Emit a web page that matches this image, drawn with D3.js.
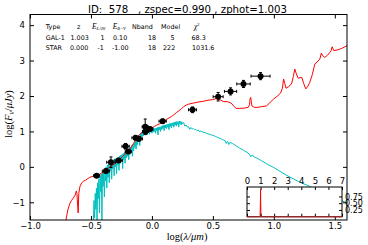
<!DOCTYPE html>
<html>
<head>
<meta charset="utf-8">
<script src="https://cdn.jsdelivr.net/npm/d3@7"></script>
<style>
  body { margin: 0; background: #fff; }
  text { font-family: "DejaVu Sans", sans-serif; }
  .serif { font-family: "Liberation Serif", "DejaVu Serif", serif; }
</style>
</head>
<body>
<svg id="sed" width="368" height="245"></svg>
<script>
// photometry points: log(lambda/um), log(Fnu/uJy), errors
const obsX = [-0.453, -0.377, -0.336, -0.273, -0.216, -0.194, -0.134, -0.107, -0.055, -0.052, -0.016, 0.088, 0.333, 0.543, 0.645, 0.751, 0.891];
const obsY = [-0.25, -0.12, 0.13, 0.18, 0.58, 0.43, 0.82, 0.79, 1.13, 1.00, 1.07, 1.29, 1.61, 1.98, 2.13, 2.34, 2.56];
const obsXErr = [0.025, 0.03, 0.035, 0.03, 0.03, 0.025, 0.03, 0.03, 0.025, 0.025, 0.025, 0.03, 0.033, 0.041, 0.05, 0.055, 0.078];
const obsYErr = [0.05, 0.05, 0.15, 0.05, 0.08, 0.05, 0.06, 0.06, 0.22, 0.06, 0.05, 0.06, 0.08, 0.12, 0.1, 0.1, 0.1];

// best galaxy template (red)
const galX = [-0.705, -0.69, -0.675, -0.66, -0.645, -0.63, -0.62, -0.615, -0.61, -0.605, -0.6, -0.59, -0.575, -0.56, -0.545, -0.53, -0.51, -0.49, -0.47, -0.45, -0.43, -0.41, -0.39, -0.37, -0.35, -0.33, -0.31, -0.29, -0.27, -0.25, -0.23, -0.21, -0.19, -0.17, -0.15, -0.13, -0.115, -0.1, -0.08, -0.06, -0.04, -0.02, 0.0, 0.02, 0.04, 0.06, 0.08, 0.1, 0.12, 0.14, 0.16, 0.18, 0.2, 0.22, 0.24, 0.26, 0.28, 0.3, 0.34, 0.38, 0.42, 0.46, 0.5, 0.53, 0.56, 0.59, 0.62, 0.65, 0.67, 0.69, 0.72, 0.76, 0.79, 0.8, 0.805, 0.81, 0.815, 0.82, 0.84, 0.87, 0.9, 0.94, 0.97, 1.0, 1.03, 1.055, 1.07, 1.08, 1.09, 1.1, 1.12, 1.145, 1.16, 1.172, 1.185, 1.2, 1.215, 1.23, 1.245, 1.262, 1.28, 1.295, 1.315, 1.336, 1.355, 1.377, 1.39, 1.4, 1.418, 1.44, 1.459, 1.47, 1.478, 1.492, 1.52, 1.555, 1.6];
const galY = [-1.5, -1.22, -1.05, -0.95, -0.88, -0.8, -0.68, -0.75, -1.05, -1.3, -0.75, -0.55, -0.45, -0.4, -0.38, -0.34, -0.3, -0.27, -0.26, -0.23, -0.21, -0.17, -0.12, -0.07, -0.02, 0.03, 0.08, 0.12, 0.19, 0.26, 0.33, 0.4, 0.47, 0.56, 0.66, 0.79, 0.86, 0.92, 0.97, 1.01, 1.05, 1.08, 1.1, 1.14, 1.18, 1.21, 1.25, 1.29, 1.34, 1.38, 1.42, 1.47, 1.53, 1.58, 1.63, 1.7, 1.74, 1.77, 1.8, 1.83, 1.85, 1.88, 1.9, 1.93, 1.89, 1.84, 1.84, 1.8, 1.72, 1.65, 1.65, 1.66, 1.68, 1.75, 1.92, 1.96, 1.85, 1.72, 1.68, 1.68, 1.7, 1.72, 1.82, 1.92, 2.0, 2.08, 2.22, 2.48, 2.35, 2.22, 2.26, 2.34, 2.55, 2.76, 2.62, 2.5, 2.52, 2.52, 2.35, 2.2, 2.28, 2.39, 2.6, 2.9, 2.96, 3.04, 3.21, 3.14, 3.09, 3.15, 3.23, 3.28, 3.39, 3.28, 3.3, 3.34, 3.42];

// best star template (cyan)
const starX = [-0.48, -0.475, -0.47, -0.465, -0.46, -0.455, -0.45, -0.445, -0.44, -0.435, -0.43, -0.425, -0.42, -0.415, -0.41, -0.405, -0.4, -0.395, -0.39, -0.385, -0.38, -0.375, -0.37, -0.365, -0.36, -0.355, -0.35, -0.345, -0.34, -0.335, -0.33, -0.325, -0.32, -0.315, -0.31, -0.305, -0.3, -0.295, -0.29, -0.285, -0.28, -0.275, -0.27, -0.265, -0.26, -0.255, -0.25, -0.245, -0.24, -0.235, -0.23, -0.225, -0.22, -0.215, -0.21, -0.205, -0.2, -0.195, -0.19, -0.185, -0.18, -0.175, -0.17, -0.165, -0.16, -0.155, -0.15, -0.145, -0.14, -0.135, -0.13, -0.125, -0.12, -0.115, -0.11, -0.105, -0.1, -0.095, -0.09, -0.085, -0.08, -0.075, -0.07, -0.065, -0.06, -0.055, -0.05, -0.045, -0.04, -0.035, -0.03, -0.025, -0.02, -0.015, -0.01, -0.005, 0.0, 0.005, 0.01, 0.015, 0.02, 0.025, 0.03, 0.035, 0.04, 0.045, 0.05, 0.055, 0.06, 0.065, 0.07, 0.075, 0.08, 0.085, 0.09, 0.095, 0.1, 0.105, 0.11, 0.115, 0.12, 0.125, 0.13, 0.135, 0.14, 0.145, 0.15, 0.155, 0.16, 0.165, 0.17, 0.175, 0.18, 0.185, 0.19, 0.195, 0.2, 0.205, 0.21, 0.215, 0.22, 0.225, 0.23, 0.235, 0.24, 0.245, 0.25, 0.26, 0.27, 0.28, 0.29, 0.3, 0.31, 0.32, 0.33, 0.34, 0.35, 0.36, 0.37, 0.38, 0.39, 0.4, 0.42, 0.44, 0.46, 0.48, 0.5, 0.52, 0.54, 0.56, 0.58, 0.6, 0.61, 0.62, 0.63, 0.64, 0.66, 0.68, 0.7, 0.72, 0.74, 0.76, 0.78, 0.8, 0.81, 0.82, 0.84, 0.86, 0.88, 0.9, 0.92, 0.94, 0.96, 1.0, 1.1, 1.2, 1.3, 1.4, 1.5, 1.6];
const starY = [-1.5, -0.95, -1.45, -0.75, -1.2, -0.6, -1.5, -0.45, -0.9, -0.35, -1.3, -0.28, -0.7, -0.2, -1.5, -0.15, -0.55, -0.1, -0.85, -0.05, -0.4, 0.0, -0.6, 0.05, -0.3, 0.08, -0.45, 0.12, -0.1, 0.15, -0.35, 0.18, -0.05, 0.2, -0.25, 0.22, 0.0, 0.24, -0.2, 0.26, 0.05, 0.28, -0.1, 0.3, 0.1, 0.33, 0.15, 0.35, -0.05, 0.38, 0.2, 0.41, 0.1, 0.44, 0.25, 0.47, 0.3, 0.5, 0.2, 0.53, 0.35, 0.56, 0.4, 0.6, 0.3, 0.64, 0.45, 0.68, 0.55, 0.72, 0.5, 0.78, 0.62, 0.83, 0.7, 0.88, 0.6, 0.93, 0.8, 0.98, 0.85, 1.03, 0.88, 1.07, 0.92, 1.1, 0.95, 1.08, 0.9, 1.06, 0.96, 1.05, 0.92, 1.04, 0.98, 1.05, 0.95, 1.06, 0.98, 1.08, 1.0, 1.09, 0.95, 1.1, 1.02, 1.11, 0.9, 1.12, 1.04, 1.13, 1.0, 1.14, 1.05, 1.16, 1.08, 1.17, 1.02, 1.18, 1.1, 1.19, 1.08, 1.2, 1.12, 1.21, 1.05, 1.22, 1.14, 1.23, 1.1, 1.24, 1.16, 1.25, 1.12, 1.26, 1.18, 1.27, 1.15, 1.28, 1.2, 1.28, 1.12, 1.29, 1.22, 1.28, 1.18, 1.27, 1.22, 1.25, 1.15, 1.18, 1.12, 1.14, 1.06, 1.11, 1.07, 1.08, 1.05, 1.06, 1.02, 1.04, 0.99, 1.01, 0.98, 0.96, 0.93, 0.91, 0.89, 0.86, 0.83, 0.8, 0.77, 0.74, 0.66, 0.72, 0.63, 0.69, 0.66, 0.62, 0.57, 0.53, 0.49, 0.45, 0.41, 0.36, 0.28, 0.33, 0.28, 0.25, 0.21, 0.17, 0.13, 0.09, 0.05, -0.02, -0.23, -0.41, -0.56, -0.72, -0.87, -1.02];

// photo-z probability (inset)
const pdfZ = [0, 0.9, 0.95, 0.97, 0.99, 1.0, 1.01, 1.03, 1.05, 1.1, 7];
const pdfP = [0, 0, 0, 0.05, 0.6, 1.0, 0.5, 0.05, 0, 0, 0];

const xTicks = [-1.0, -0.5, 0.0, 0.5, 1.0, 1.5];
const yTicks = [-1, 0, 1, 2, 3, 4];
const zTicks = [0, 1, 2, 3, 4, 5, 6, 7];
const pTicks = [0.25, 0.5, 0.75];

const tableRows = [
  ["GAL-1", "1.003", "1", "0.10", "18", "5", "68.3"],
  ["STAR", "0.000", "-1", "-1.00", "18", "222", "1031.6"]
];

const svg = d3.select('#sed');
const L = 30, R = 347, T = 14.5, B = 220;

const x = d3.scaleLinear().domain([-1.0, 1.6]).range([L, R]);
const y = d3.scaleLinear().domain([-1.5, 4.3]).range([B, T]);

svg.append('clipPath').attr('id', 'clip')
  .append('rect').attr('x', L).attr('y', T).attr('width', R - L).attr('height', B - T);

const plot = svg.append('g').attr('clip-path', 'url(#clip)');

const line = d3.line().x(d => x(d[0])).y(d => y(d[1]));

plot.append('path')
  .datum(starX.map((v, i) => [v, starY[i]]))
  .attr('fill', 'none').attr('stroke', '#00bfbf').attr('stroke-width', 1)
  .attr('d', line);

plot.append('path')
  .datum(galX.map((v, i) => [v, galY[i]]))
  .attr('fill', 'none').attr('stroke', '#ff0000').attr('stroke-width', 1)
  .attr('d', line);

const pts = obsX.map((v, i) => ({x: v, y: obsY[i], ex: obsXErr[i], ey: obsYErr[i]}));
const pg = plot.selectAll('.pt').data(pts).enter().append('g').classed('pt', true)
  .attr('stroke', '#000').attr('stroke-width', 1);
pg.append('line')
  .attr('x1', d => x(d.x - d.ex)).attr('x2', d => x(d.x + d.ex))
  .attr('y1', d => y(d.y)).attr('y2', d => y(d.y));
pg.append('line')
  .attr('x1', d => x(d.x)).attr('x2', d => x(d.x))
  .attr('y1', d => y(d.y - d.ey)).attr('y2', d => y(d.y + d.ey));
pg.append('line')
  .attr('x1', d => x(d.x - d.ex)).attr('x2', d => x(d.x - d.ex))
  .attr('y1', d => y(d.y) - 1.5).attr('y2', d => y(d.y) + 1.5);
pg.append('line')
  .attr('x1', d => x(d.x + d.ex)).attr('x2', d => x(d.x + d.ex))
  .attr('y1', d => y(d.y) - 1.5).attr('y2', d => y(d.y) + 1.5);
pg.append('line')
  .attr('x1', d => x(d.x) - 1.5).attr('x2', d => x(d.x) + 1.5)
  .attr('y1', d => y(d.y + d.ey)).attr('y2', d => y(d.y + d.ey));
pg.append('line')
  .attr('x1', d => x(d.x) - 1.5).attr('x2', d => x(d.x) + 1.5)
  .attr('y1', d => y(d.y - d.ey)).attr('y2', d => y(d.y - d.ey));
pg.append('circle')
  .attr('cx', d => x(d.x)).attr('cy', d => y(d.y)).attr('r', 3)
  .attr('fill', '#000').attr('stroke', 'none');

// axes with inward ticks
function styleAxis(g) {
  g.select('.domain').remove();
  g.selectAll('text').attr('font-family', 'DejaVu Sans').attr('fill', '#000');
  g.selectAll('line').attr('stroke', '#000');
}
svg.append('g').attr('transform', 'translate(0,' + B + ')')
  .call(d3.axisBottom(x).tickValues(xTicks).tickFormat(d3.format('.1f')).tickSize(-4).tickPadding(3))
  .attr('font-size', 8.5).call(styleAxis);
svg.append('g').attr('transform', 'translate(0,' + T + ')')
  .call(d3.axisTop(x).tickValues(xTicks).tickFormat('').tickSize(-4))
  .call(styleAxis);
svg.append('g').attr('transform', 'translate(' + L + ',0)')
  .call(d3.axisLeft(y).tickValues(yTicks).tickFormat(d3.format('d')).tickSize(-4).tickPadding(5))
  .attr('font-size', 8.5).call(styleAxis);
svg.append('g').attr('transform', 'translate(' + R + ',0)')
  .call(d3.axisRight(y).tickValues(yTicks).tickFormat('').tickSize(-4))
  .call(styleAxis);

svg.append('rect').attr('x', L).attr('y', T).attr('width', R - L).attr('height', B - T)
  .attr('fill', 'none').attr('stroke', '#000').attr('stroke-width', 1);

// title
svg.append('text').attr('x', 187.5).attr('y', 12.5)
  .attr('text-anchor', 'middle').attr('font-size', 10.2)
  .style('white-space', 'pre')
  .text('ID:  578   , zspec=0.990 , zphot=1.003');

// axis labels
const xl = svg.append('text').classed('serif', true)
  .attr('x', 187).attr('y', 239.5).attr('text-anchor', 'middle').attr('font-size', 10.5);
xl.append('tspan').text('log(');
xl.append('tspan').attr('font-style', 'italic').text('λ/μm');
xl.append('tspan').text(')');

const yl = svg.append('text').classed('serif', true)
  .attr('transform', 'translate(12,114) rotate(-90)')
  .attr('text-anchor', 'middle').attr('font-size', 10.5);
yl.append('tspan').text('log(');
yl.append('tspan').attr('font-style', 'italic').text('F');
yl.append('tspan').attr('font-style', 'italic').attr('font-size', 7.5).attr('dy', 2).text('ν');
yl.append('tspan').attr('dy', -2).text('/');
yl.append('tspan').attr('font-style', 'italic').text('μJy');
yl.append('tspan').text(')');

// fit table
const tbl = svg.append('g').attr('font-size', 6.4);
const rowY = [39.5, 50];
tbl.append('text').attr('x', 45.7).attr('y', 28.5).text('Type');
tbl.append('text').attr('x', 77).attr('y', 28.5).text('z');
const eh1 = tbl.append('text').classed('serif', true).attr('x', 92).attr('y', 28.5).attr('font-size', 7.5);
eh1.append('tspan').attr('font-style', 'italic').text('E');
eh1.append('tspan').attr('font-style', 'italic').attr('font-size', 4.5).attr('dy', 1.5).text('LAW');
const eh2 = tbl.append('text').classed('serif', true).attr('x', 112.7).attr('y', 28.5).attr('font-size', 7.5);
eh2.append('tspan').attr('font-style', 'italic').text('E');
eh2.append('tspan').attr('font-style', 'italic').attr('font-size', 4.5).attr('dy', 1.5).text('B−V');
tbl.append('text').attr('x', 132).attr('y', 28.5).text('Nband');
tbl.append('text').attr('x', 161).attr('y', 28.5).text('Model');
const ch = tbl.append('text').classed('serif', true).attr('x', 194).attr('y', 28.5).attr('font-size', 7.5);
ch.append('tspan').attr('font-style', 'italic').text('χ');
ch.append('tspan').attr('font-size', 4.5).attr('dy', -3).text('2');

const colXs = [[45.7, 70.5, 100.5, 113, 148, 170.5, 191.5], [45.7, 70, 97.5, 112, 148, 163, 192]];
tableRows.forEach((row, r) => {
  row.forEach((cell, c) => {
    tbl.append('text').attr('x', colXs[r][c]).attr('y', rowY[r]).text(cell);
  });
});

// inset: redshift probability
const iL = 247, iR = 342, iT = 187, iB = 216.7;
const zx = d3.scaleLinear().domain([0, 7]).range([iL, iR]);
const py = d3.scaleLinear().domain([0, 1.1]).range([iB, iT]);

svg.append('rect').attr('x', iL).attr('y', iT).attr('width', iR - iL).attr('height', iB - iT)
  .attr('fill', '#fff');
svg.append('path')
  .datum(pdfZ.map((v, i) => [v, pdfP[i]]))
  .attr('fill', 'none').attr('stroke', '#ff0000').attr('stroke-width', 1)
  .attr('d', d3.line().x(d => zx(d[0])).y(d => py(d[1])));

svg.append('g').attr('transform', 'translate(0,' + iT + ')')
  .call(d3.axisTop(zx).tickValues(zTicks).tickFormat(d3.format('d')).tickSize(-3).tickPadding(3))
  .attr('font-size', 8.5).call(styleAxis);
svg.append('g').attr('transform', 'translate(0,' + iB + ')')
  .call(d3.axisBottom(zx).tickValues(zTicks).tickFormat('').tickSize(-3))
  .call(styleAxis);
svg.append('g').attr('transform', 'translate(' + iR + ',0)')
  .call(d3.axisRight(py).tickValues(pTicks).tickFormat(d3.format('.2f')).tickSize(-3).tickPadding(3))
  .attr('font-size', 8).call(styleAxis);
svg.append('g').attr('transform', 'translate(' + iL + ',0)')
  .call(d3.axisLeft(py).tickValues(pTicks).tickFormat('').tickSize(-3))
  .call(styleAxis);
svg.append('rect').attr('x', iL).attr('y', iT).attr('width', iR - iL).attr('height', iB - iT)
  .attr('fill', 'none').attr('stroke', '#000').attr('stroke-width', 1);
svg.append('line').attr('x1', iL).attr('x2', iR).attr('y1', iB).attr('y2', iB)
  .attr('stroke', '#a33').attr('stroke-width', 1);
</script>
</body>
</html>
